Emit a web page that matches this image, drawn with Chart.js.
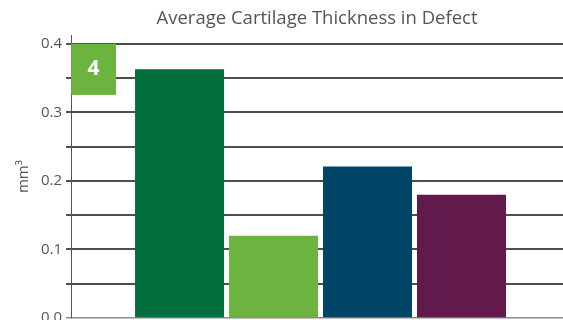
<!DOCTYPE html>
<html lang="en">
  <head>
    <meta charset="UTF-8" />
    <script src="https://cdn.jsdelivr.net/npm/chart.js@4.4.0/dist/chart.umd.min.js"></script>
    <title>Average Cartilage Thickness in Defect</title>
    <style>
      body {
        margin: 0;
        padding: 0;
        background: #fff;
        overflow: hidden;
      }
    </style>
  </head>
  <body>
    <canvas id="chart" width="563" height="331"></canvas>
    <script>
      const groups = ['Group 1', 'Group 2', 'Group 3', 'Group 4']
      const thickness = [0.363, 0.12, 0.221, 0.18]
      const barColors = ['#016e3b', '#6db33f', '#004468', '#621a4c']
      const tickValues = [0, 0.05, 0.1, 0.15, 0.2, 0.25, 0.3, 0.35, 0.4]
      const panelLabel = '4'

      const gridColor = '#4f5045'
      const textColor = '#555555'
      const font = 'Open Sans'

      // green "4" badge in the top left corner of the plot
      const badge = {
        id: 'badge',
        afterDatasetsDraw(chart) {
          const { ctx, chartArea } = chart
          const y = chart.scales.y
          const top = y.getPixelForValue(0.4)
          const x0 = chartArea.left
          ctx.save()
          ctx.fillStyle = '#6db33f'
          ctx.fillRect(x0, top, 45, 51)
          ctx.fillStyle = '#ffffff'
          ctx.font = 'bold 21px ' + font
          ctx.textAlign = 'center'
          ctx.textBaseline = 'middle'
          ctx.fillText(panelLabel, x0 + 22.5, top + 25)
          ctx.restore()
        },
      }

      new Chart(document.getElementById('chart'), {
        type: 'bar',
        data: {
          datasets: [
            {
              data: groups.map((g, i) => ({ x: i + 1, y: thickness[i] })),
              backgroundColor: barColors,
              borderWidth: 0,
              categoryPercentage: 1,
              barPercentage: 0.947,
            },
          ],
        },
        options: {
          responsive: false,
          animation: false,
          layout: { padding: { left: 15, right: 0, top: 0, bottom: 0 } },
          plugins: {
            legend: { display: false },
            tooltip: { enabled: false },
            title: {
              display: true,
              fullSize: false,
              text: 'Average Cartilage Thickness in Defect',
              color: textColor,
              font: { family: font, size: 18.5, weight: 'normal' },
              padding: { top: 8, bottom: 5 },
            },
          },
          scales: {
            x: {
              type: 'linear',
              display: false,
              offset: false,
              min: -0.154,
              max: 5.08,
            },
            y: {
              min: 0,
              max: 0.4127,
              afterBuildTicks: (s) => {
                s.ticks = tickValues.map((v) => ({ value: v }))
              },
              ticks: {
                color: textColor,
                font: { family: font, size: 15 },
                padding: 4,
                callback: (v) =>
                  Math.round(v * 100) % 10 === 0 ? v.toFixed(1) : '',
              },
              grid: {
                color: (c) => (c.tick && c.tick.value === 0 ? '#8a8a8a' : gridColor),
                lineWidth: (c) => (c.tick && c.tick.value === 0 ? 1.5 : 2),
                tickLength: 5,
              },
              border: { color: '#55554c', width: 1 },
              title: {
                display: true,
                text: 'mm³',
                color: textColor,
                font: { family: font, size: 15 },
                padding: { top: 0, bottom: 4 },
              },
            },
          },
        },
        plugins: [badge],
      })
    </script>
  </body>
</html>
